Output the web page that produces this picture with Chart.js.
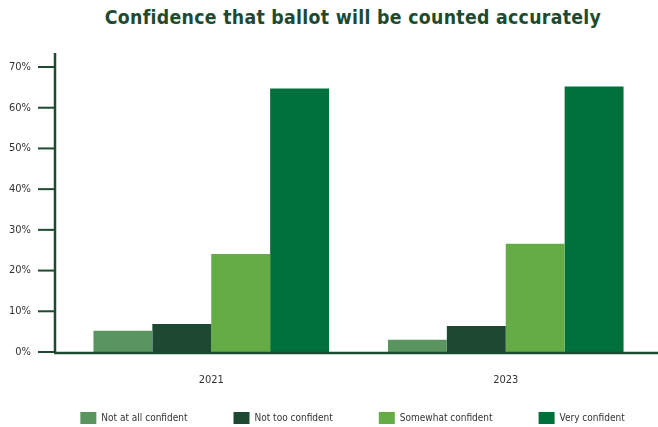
<!DOCTYPE html>
<html>
<head>
<meta charset="utf-8">
<script src="https://cdn.jsdelivr.net/npm/chart.js@4"></script>
<style>
  html, body { margin: 0; padding: 0; background: #fff; overflow: hidden; }
  #title {
    height: 36px;
    font: bold 19.3px "DejaVu Sans Condensed", sans-serif;
    line-height: 36px;
    text-align: center;
    padding-left: 48px;
    color: #1d4a30;
    letter-spacing: 0.3px;
  }
  #wrap { width: 658px; height: 391px; }
</style>
</head>
<body>
<div id="title">Confidence that ballot will be counted accurately</div>
<div id="wrap"><canvas id="ballotChart"></canvas></div>
<script>
// Survey years and answers
const years = ['2021', '2023'];
const notAtAll = [5.2, 3];
const notToo = [6.9, 6.4];
const somewhat = [24.1, 26.6];
const very = [64.7, 65.2];
const yTicks = [0, 10, 20, 30, 40, 50, 60, 70];

const axisColor = '#1d4a30';
const fontFamily = '"DejaVu Sans Condensed", sans-serif';
const legendGap = 46;

// axis lines sit a little left of the plot, with short tick marks
const axisLines = {
  id: 'axisLines',
  afterInit(chart) {
    // the legend only needs a thin strip under the year labels
    const legend = chart.legend;
    const fit = legend.fit;
    legend.fit = function () {
      fit.call(this);
      this.height = 39;
    };
  },
  afterLayout(chart) {
    // legend row sits 66px under the baseline, nudged right
    const legend = chart.legend;
    legend.top = chart.chartArea.bottom + 66 - 6 - legendGap;
    legend.bottom = legend.top + legendGap + 14;
    legend.left += 26;
    legend.right += 26;
  },
  afterDraw(chart) {
    const { ctx, chartArea, scales } = chart;
    const ax = chartArea.left - 9;
    const y0 = scales.y.getPixelForValue(0);
    ctx.save();
    ctx.strokeStyle = axisColor;
    ctx.lineWidth = 2;
    yTicks.forEach(v => {
      const y = scales.y.getPixelForValue(v);
      ctx.beginPath();
      ctx.moveTo(ax - 17, y);
      ctx.lineTo(ax, y);
      ctx.stroke();
    });
    ctx.lineWidth = 2.5;
    ctx.beginPath();
    ctx.moveTo(ax, chartArea.top - 14);
    ctx.lineTo(ax, y0 + 1);
    ctx.stroke();
    ctx.beginPath();
    ctx.moveTo(ax - 1, y0 + 1);
    ctx.lineTo(chart.width, y0 + 1);
    ctx.stroke();
    ctx.restore();
  }
};

const ctx = document.getElementById('ballotChart').getContext('2d');
new Chart(ctx, {
  type: 'bar',
  data: {
    labels: years,
    datasets: [
      { label: 'Not at all confident', data: notAtAll, backgroundColor: '#5a955f' },
      { label: 'Not too confident', data: notToo, backgroundColor: '#1d4831' },
      { label: 'Somewhat confident', data: somewhat, backgroundColor: '#65ab46' },
      { label: 'Very confident', data: very, backgroundColor: '#00703a' }
    ]
  },
  plugins: [axisLines],
  options: {
    responsive: true,
    maintainAspectRatio: false,
    animation: false,
    layout: { padding: { top: 31, right: 5, bottom: 0, left: 0 } },
    datasets: { bar: { categoryPercentage: 0.8, barPercentage: 1.0 } },
    scales: {
      x: {
        afterFit(scale) { scale.height = 36; },
        grid: { display: false, drawTicks: false },
        border: { display: false },
        ticks: { color: '#333', font: { family: fontFamily, size: 11 }, padding: 22 }
      },
      y: {
        min: 0,
        max: 70,
        afterFit(scale) { scale.width = 64; },
        afterBuildTicks(scale) { scale.ticks = yTicks.map(v => ({ value: v })); },
        grid: { display: false, drawTicks: true, tickLength: 30 },
        border: { display: false },
        ticks: { color: '#333', font: { family: fontFamily, size: 11 }, padding: 3, callback: v => v + '%' }
      }
    },
    plugins: {
      legend: {
        position: 'bottom',
        labels: { boxWidth: 16, boxHeight: 12, padding: legendGap, color: '#333', font: { family: fontFamily, size: 10 } }
      },
      tooltip: { enabled: false }
    }
  }
});
</script>
</body>
</html>
